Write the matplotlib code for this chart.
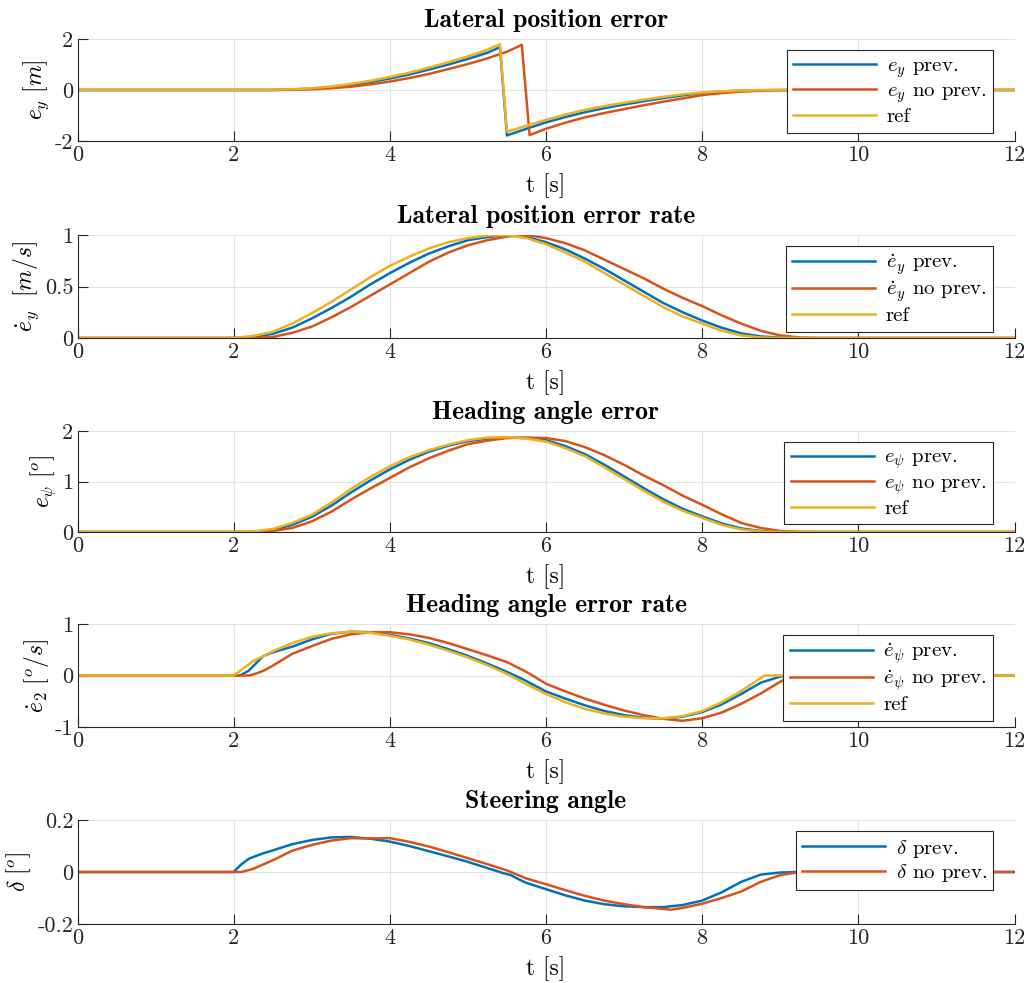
import matplotlib
matplotlib.use("Agg")
import matplotlib.pyplot as plt
import numpy as np

plt.rcParams['font.family'] = 'serif'
plt.rcParams['font.serif'] = ['cmr10']
plt.rcParams['mathtext.fontset'] = 'cm'
plt.rcParams['axes.unicode_minus'] = False
plt.rcParams['axes.formatter.use_mathtext'] = True

# MATLAB default line colours
c_prev = '#0072BD'
c_noprev = '#D95319'
c_ref = '#EDB120'

# common time grid for the smooth signals (s)
t_grid = [0, 2.0, 2.25, 2.5, 2.75, 3.0, 3.25, 3.5, 3.75, 4.0, 4.25, 4.5, 4.75, 5.0,
          5.25, 5.5, 5.75, 6.0, 6.25, 6.5, 6.75, 7.0, 7.25, 7.5, 7.75, 8.0, 8.25,
          8.5, 8.75, 9.0, 9.25, 9.5, 12]

# --- lateral position error e_y [m]
t_ey_ref = [0, 2.25, 2.5, 2.75, 3.0, 3.25, 3.5, 3.75, 4.0, 4.25, 4.5, 4.75, 5.0, 5.25,
            5.41, 5.50, 5.75, 6.0, 6.25, 6.5, 6.75, 7.0, 7.25, 7.5, 7.75, 8.0, 8.25,
            8.5, 8.75, 9.0, 12]
ey_ref = [0, 0, 0.01, 0.03, 0.07, 0.14, 0.24, 0.36, 0.51, 0.68, 0.88, 1.09, 1.32, 1.58,
          1.80, -1.64, -1.40, -1.17, -0.96, -0.78, -0.63, -0.50, -0.38, -0.27, -0.17,
          -0.10, -0.05, -0.02, -0.005, 0, 0]
t_ey_prev = t_ey_ref
ey_prev = [0, 0, 0.0, 0.02, 0.05, 0.11, 0.20, 0.31, 0.45, 0.61, 0.80, 1.00, 1.22, 1.46,
           1.68, -1.78, -1.52, -1.27, -1.06, -0.87, -0.71, -0.57, -0.44, -0.32, -0.21,
           -0.12, -0.06, -0.025, -0.008, 0, 0]
t_ey_noprev = [0, 2.5, 2.75, 3.0, 3.25, 3.5, 3.75, 4.0, 4.25, 4.5, 4.75, 5.0, 5.25, 5.5,
               5.69, 5.79, 6.0, 6.25, 6.5, 6.75, 7.0, 7.25, 7.5, 7.75, 8.0, 8.25, 8.5,
               8.75, 9.0, 9.25, 12]
ey_noprev = [0, 0, 0.01, 0.03, 0.07, 0.13, 0.22, 0.33, 0.47, 0.63, 0.82, 1.02, 1.24, 1.50,
             1.77, -1.77, -1.52, -1.28, -1.07, -0.90, -0.75, -0.60, -0.46, -0.33, -0.20,
             -0.12, -0.06, -0.03, -0.01, 0, 0]

# --- lateral position error rate [m/s]
dey_ref = [0, 0, 0.02, 0.06, 0.14, 0.24, 0.35, 0.47, 0.59, 0.70, 0.79, 0.87, 0.93, 0.97,
           0.995, 1.0, 0.97, 0.91, 0.83, 0.74, 0.63, 0.52, 0.41, 0.30, 0.21, 0.14, 0.07,
           0.025, 0.005, 0, 0, 0, 0]
dey_prev = [0, 0, 0.01, 0.04, 0.10, 0.19, 0.29, 0.40, 0.52, 0.63, 0.73, 0.82, 0.89, 0.95,
            0.98, 1.0, 0.98, 0.93, 0.86, 0.77, 0.67, 0.56, 0.45, 0.34, 0.25, 0.17, 0.10,
            0.045, 0.015, 0.003, 0, 0, 0]
dey_noprev = [0, 0, 0.0, 0.01, 0.05, 0.11, 0.20, 0.30, 0.41, 0.52, 0.63, 0.74, 0.83, 0.90,
              0.95, 0.985, 1.0, 0.97, 0.92, 0.85, 0.76, 0.67, 0.58, 0.48, 0.39, 0.31, 0.22,
              0.14, 0.07, 0.025, 0.005, 0, 0]

# --- heading angle error [deg]
epsi_ref = [0, 0, 0.01, 0.06, 0.18, 0.34, 0.58, 0.85, 1.09, 1.30, 1.48, 1.62, 1.73, 1.82,
            1.87, 1.88, 1.85, 1.79, 1.66, 1.50, 1.28, 1.05, 0.82, 0.60, 0.42, 0.28, 0.14,
            0.05, 0.01, 0, 0, 0, 0]
epsi_prev = [0, 0, 0.005, 0.04, 0.14, 0.30, 0.52, 0.78, 1.02, 1.24, 1.43, 1.59, 1.71, 1.80,
             1.85, 1.87, 1.86, 1.82, 1.70, 1.54, 1.33, 1.10, 0.87, 0.65, 0.46, 0.31, 0.17,
             0.07, 0.02, 0.003, 0, 0, 0]
epsi_noprev = [0, 0, 0, 0.02, 0.08, 0.21, 0.40, 0.64, 0.86, 1.07, 1.28, 1.46, 1.61, 1.74,
               1.81, 1.86, 1.87, 1.86, 1.80, 1.68, 1.52, 1.33, 1.12, 0.93, 0.72, 0.54, 0.35,
               0.18, 0.08, 0.02, 0.003, 0, 0]

# --- heading angle error rate [deg/s]
t_depsi_ref = [0, 2.0, 2.25, 2.5, 2.75, 3.0, 3.25, 3.5, 3.75, 4.0, 4.25, 4.5, 4.75, 5.0,
               5.25, 5.5, 5.75, 6.0, 6.25, 6.5, 6.75, 7.0, 7.25, 7.5, 7.75, 8.0, 8.25,
               8.5, 8.8, 12]
depsi_ref = [0, 0, 0.28, 0.47, 0.63, 0.75, 0.82, 0.85, 0.83, 0.77, 0.70, 0.60, 0.48, 0.35,
             0.20, 0.03, -0.17, -0.36, -0.52, -0.65, -0.74, -0.80, -0.83, -0.83, -0.79,
             -0.69, -0.52, -0.30, 0, 0]
t_depsi_prev = [0, 2.08, 2.19, 2.38, 2.5, 2.75, 3.0, 3.25, 3.5, 3.75, 4.0, 4.25, 4.5, 4.75,
                5.0, 5.25, 5.5, 5.6, 5.7, 6.0, 6.25, 6.5, 6.75, 7.0, 7.25, 7.5, 7.75, 8.0,
                8.25, 8.5, 8.75, 9.0, 9.1, 12]
depsi_prev = [0, 0, 0.09, 0.38, 0.45, 0.56, 0.70, 0.81, 0.85, 0.84, 0.79, 0.72, 0.63, 0.51,
              0.38, 0.23, 0.07, 0.0, -0.07, -0.31, -0.45, -0.58, -0.69, -0.77, -0.82, -0.84,
              -0.80, -0.71, -0.56, -0.36, -0.14, -0.02, 0, 0]
t_depsi_noprev = [0, 2.2, 2.25, 2.38, 2.5, 2.75, 3.0, 3.25, 3.5, 3.75, 4.0, 4.25, 4.5, 4.75,
                  5.0, 5.25, 5.5, 5.75, 6.0, 6.25, 6.5, 6.75, 7.0, 7.25, 7.5, 7.75, 8.0,
                  8.25, 8.5, 8.75, 9.0, 9.15, 12]
depsi_noprev = [0, 0, 0.02, 0.09, 0.19, 0.42, 0.57, 0.71, 0.80, 0.84, 0.84, 0.80, 0.73, 0.63,
                0.51, 0.39, 0.26, 0.07, -0.16, -0.31, -0.45, -0.57, -0.68, -0.77, -0.84,
                -0.88, -0.83, -0.72, -0.55, -0.35, -0.12, 0, 0]

# --- steering angle [deg]
t_delta_prev = [0, 2.0, 2.1, 2.2, 2.38, 2.5, 2.75, 3.0, 3.25, 3.5, 3.75, 4.0, 4.25, 4.5,
                4.75, 5.0, 5.25, 5.45, 5.55, 5.65, 5.75, 6.0, 6.25, 6.5, 6.75, 7.0, 7.25,
                7.5, 7.75, 8.0, 8.25, 8.5, 8.75, 9.0, 9.2, 12]
delta_prev = [0, 0, 0.03, 0.052, 0.072, 0.083, 0.107, 0.123, 0.133, 0.135, 0.128, 0.117,
              0.100, 0.080, 0.060, 0.039, 0.015, -0.004, -0.012, -0.028, -0.042, -0.066,
              -0.090, -0.110, -0.124, -0.132, -0.135, -0.135, -0.127, -0.110, -0.078,
              -0.038, -0.010, -0.002, 0, 0]
t_delta_noprev = [0, 2.1, 2.25, 2.5, 2.75, 3.0, 3.25, 3.5, 3.75, 4.0, 4.25, 4.5, 4.75, 5.0,
                  5.25, 5.5, 5.75, 6.0, 6.25, 6.5, 6.75, 7.0, 7.25, 7.5, 7.6, 7.75, 8.0,
                  8.25, 8.5, 8.75, 9.0, 9.25, 12]
delta_noprev = [0, 0, 0.012, 0.045, 0.082, 0.104, 0.121, 0.130, 0.129, 0.130, 0.116, 0.098,
                0.076, 0.053, 0.030, 0.006, -0.025, -0.047, -0.070, -0.092, -0.110, -0.124,
                -0.135, -0.142, -0.145, -0.138, -0.122, -0.100, -0.075, -0.038, -0.012, 0, 0]

panels = [
    dict(title='Lateral position error', ylabel=r'$e_y\ [m]$',
         yticks=[-2, 0, 2], yticklabels=['-2', '0', '2'], ylim=(-2, 2),
         lines=[(t_ey_prev, ey_prev, c_prev, r'$e_y$ prev.'),
                (t_ey_noprev, ey_noprev, c_noprev, r'$e_y$ no prev.'),
                (t_ey_ref, ey_ref, c_ref, 'ref')]),
    dict(title='Lateral position error rate', ylabel=r'$\dot{e}_y\ \ [m/s]$',
         yticks=[0, 0.5, 1], yticklabels=['0', '0.5', '1'], ylim=(0, 1),
         lines=[(t_grid, dey_prev, c_prev, r'$\dot{e}_y$ prev.'),
                (t_grid, dey_noprev, c_noprev, r'$\dot{e}_y$ no prev.'),
                (t_grid, dey_ref, c_ref, 'ref')]),
    dict(title='Heading angle error', ylabel=r'$e_\psi\ [^o]$',
         yticks=[0, 1, 2], yticklabels=['0', '1', '2'], ylim=(0, 2),
         lines=[(t_grid, epsi_prev, c_prev, r'$e_\psi$ prev.'),
                (t_grid, epsi_noprev, c_noprev, r'$e_\psi$ no prev.'),
                (t_grid, epsi_ref, c_ref, 'ref')]),
    dict(title='Heading angle error rate', ylabel=r'$\dot{e}_2\ [^o/s]$',
         yticks=[-1, 0, 1], yticklabels=['-1', '0', '1'], ylim=(-1, 1),
         lines=[(t_depsi_prev, depsi_prev, c_prev, r'$\dot{e}_\psi$ prev.'),
                (t_depsi_noprev, depsi_noprev, c_noprev, r'$\dot{e}_\psi$ no prev.'),
                (t_depsi_ref, depsi_ref, c_ref, 'ref')]),
    dict(title='Steering angle', ylabel=r'$\delta\ [^o]$',
         yticks=[-0.2, 0, 0.2], yticklabels=['-0.2', '0', '0.2'], ylim=(-0.2, 0.2),
         lines=[(t_delta_prev, delta_prev, c_prev, r'$\delta$ prev.'),
                (t_delta_noprev, delta_noprev, c_noprev, r'$\delta$ no prev.')]),
]

W, H = 1031, 983
fig = plt.figure(figsize=(W / 100, H / 100), dpi=100)

# axes boxes in pixels: (top, bottom)
boxes = [(39, 141), (235, 338), (431, 532), (624, 727), (820, 924)]
left_px, right_px = 77.5, 1014.5
fs_tick = 16
fs_label = 17
fs_title = 18.5
fs_leg = 15

for (top, bot), p in zip(boxes, panels):
    ax = fig.add_axes([left_px / W, 1 - bot / H, (right_px - left_px) / W, (bot - top) / H])
    for t, y, c, lab in p['lines']:
        ax.plot(t, y, color=c, lw=1.8, label=lab)
    ax.set_xlim(0, 12)
    ax.set_ylim(*p['ylim'])
    ax.set_xticks(range(0, 13, 2))
    ax.set_xticklabels([str(v) for v in range(0, 13, 2)], fontsize=fs_tick)
    ax.set_yticks(p['yticks'])
    ax.set_yticklabels(p['yticklabels'], fontsize=fs_tick)
    ax.grid(True, color='#e3e3e3', lw=0.8)
    ax.set_axisbelow(True)
    for s in ['top', 'right']:
        ax.spines[s].set_visible(False)
    for s in ['left', 'bottom']:
        ax.spines[s].set_color('#262626')
        ax.spines[s].set_linewidth(0.8)
    ax.tick_params(direction='in', length=7, width=0.8, color='#262626',
                   labelcolor='#262626', pad=3)
    ax.set_title(p['title'], fontsize=fs_title, fontfamily='cmb10', pad=8.5)
    ax.set_xlabel('t [s]', fontsize=fs_label, labelpad=6)
    ax.set_ylabel(p['ylabel'], fontsize=fs_label, labelpad=3)
    leg = ax.legend(loc='upper right', bbox_to_anchor=(0.977, 0.89), fontsize=fs_leg,
                    frameon=True, fancybox=False, edgecolor='#262626', framealpha=1,
                    handlelength=4.0, borderaxespad=0, borderpad=0.3,
                    labelspacing=0.12, handletextpad=0.5)
    leg.get_frame().set_linewidth(0.8)

fig.savefig('out.png', dpi=100)
